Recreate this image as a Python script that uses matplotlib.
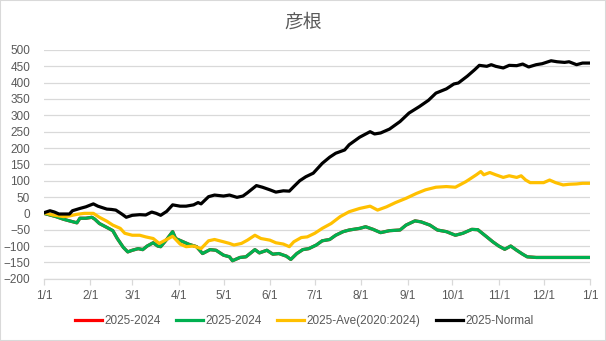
import matplotlib
matplotlib.use("Agg")
import matplotlib.pyplot as plt
from matplotlib.patches import Rectangle

plt.rcParams['font.family'] = ['Liberation Sans', 'Noto Sans CJK JP', 'DejaVu Sans']

# 日数 (1/1 = 0) と累積差
normal_days = [0, 4, 7, 10, 17, 19, 24, 28, 33, 36,
               42, 45, 48, 52, 55, 59, 64, 68, 72, 75,
               78, 82, 86, 91, 95, 100, 103, 105, 110, 114,
               120, 124, 129, 133, 136, 142, 146, 151, 155, 160,
               164, 167, 171, 175, 180, 183, 186, 191, 195, 201,
               204, 211, 218, 221, 225, 231, 238, 244, 251, 257,
               262, 269, 274, 277, 283, 288, 291, 296, 299, 302,
               307, 311, 316, 320, 324, 329, 333, 339, 343, 348,
               351, 356, 360, 364]
normal_vals = [2, 8, 4, -2, -2, 8, 15, 20, 29, 22,
               13, 12, 10, -2, -12, -6, -4, -5, 4, 0,
               -6, 6, 26, 22, 22, 26, 33, 29, 51, 56,
               53, 56, 49, 53, 63, 85, 80, 72, 65, 69,
               68, 82, 100, 112, 123, 138, 153, 172, 184, 194,
               210, 233, 250, 243, 246, 258, 281, 307, 327, 346,
               368, 381, 396, 399, 420, 440, 453, 450, 455, 450,
               445, 453, 452, 457, 448, 455, 458, 467, 464, 462,
               464, 455, 460, 460]

ave_days = [0, 6, 13, 17, 22, 27, 33, 37, 42, 46,
            51, 54, 59, 64, 68, 73, 77, 82, 86, 91,
            95, 100, 105, 110, 114, 120, 124, 127, 132, 136,
            141, 145, 151, 155, 160, 164, 167, 172, 176, 181,
            186, 192, 198, 204, 211, 218, 223, 229, 235, 242,
            249, 255, 262, 269, 275, 282, 289, 292, 294, 298,
            302, 307, 311, 316, 319, 322, 325, 330, 334, 338,
            342, 347, 351, 356, 360, 364]
ave_vals = [2, -5, -10, -8, -3, 0, 0, -12, -24, -36,
            -46, -61, -67, -67, -72, -77, -92, -80, -70, -94,
            -102, -100, -108, -84, -80, -87, -92, -97, -92, -82,
            -67, -77, -82, -90, -94, -102, -87, -74, -72, -61,
            -46, -31, -10, 5, 15, 22, 10, 20, 33, 46,
            61, 72, 80, 82, 80, 97, 118, 128, 118, 125,
            118, 110, 115, 110, 115, 102, 94, 94, 94, 102,
            94, 87, 89, 90, 92, 92]

prev_days = [0, 4, 8, 13, 17, 22, 24, 28, 32, 34,
             37, 42, 46, 49, 53, 56, 59, 63, 66, 69,
             73, 76, 78, 82, 86, 88, 93, 97, 102, 106,
             111, 115, 120, 124, 126, 131, 135, 141, 144, 149,
             153, 157, 162, 165, 169, 173, 177, 182, 186, 191,
             195, 200, 204, 211, 215, 220, 225, 231, 238, 242,
             248, 252, 258, 263, 269, 275, 280, 286, 290, 296,
             300, 304, 308, 312, 316, 320, 323, 329, 364]
prev_vals = [0, -5, -10, -18, -23, -29, -15, -15, -12, -18,
             -31, -43, -53, -77, -104, -118, -113, -108, -111, -100,
             -90, -100, -102, -80, -56, -77, -87, -95, -102, -123,
             -111, -113, -128, -133, -145, -135, -133, -111, -121, -113,
             -125, -123, -131, -141, -123, -111, -108, -97, -84, -80,
             -67, -56, -51, -46, -41, -49, -59, -53, -51, -36,
             -23, -26, -36, -51, -56, -67, -61, -49, -50, -72,
             -87, -100, -110, -100, -113, -125, -133, -135, -135]

month_days = [0, 31, 59, 90, 120, 151, 181, 212, 243, 273, 304, 334, 365]
month_labels = ['1/1', '2/1', '3/1', '4/1', '5/1', '6/1', '7/1',
                '8/1', '9/1', '10/1', '11/1', '12/1', '1/1']

text_c = '#595959'
grid_c = '#d9d9d9'

fig = plt.figure(figsize=(6.06, 3.41), dpi=100)
ax = fig.add_axes([0.0726, 0.1827, 0.901, 0.6707])

lw = 2.3
ax.plot(prev_days, prev_vals, color='#ff0000', lw=lw, label='2025-2024')
ax.plot(prev_days, prev_vals, color='#00b050', lw=lw, label='2025-2024')
ax.plot(ave_days, ave_vals, color='#ffc000', lw=lw, label='2025-Ave(2020:2024)')
ax.plot(normal_days, normal_vals, color='#000000', lw=lw, label='2025-Normal')

ax.set_xlim(0, 365)
ax.set_ylim(-200, 500)
ax.set_yticks(range(-200, 501, 50))
ax.set_xticks(month_days)
ax.set_xticklabels(month_labels)
ax.grid(axis='y', color=grid_c, lw=0.9)
ax.set_axisbelow(True)

for s in ['top', 'right', 'left']:
    ax.spines[s].set_visible(False)
ax.spines['bottom'].set_color(grid_c)
ax.spines['bottom'].set_linewidth(0.9)
ax.tick_params(axis='y', length=0, pad=10, labelsize=8.5, labelcolor=text_c)
ax.tick_params(axis='x', length=4, width=0.9, color=grid_c, direction='out',
               pad=4, labelsize=8.5, labelcolor=text_c)

fig.text(0.5, 0.935, '彦根', ha='center', va='center', fontsize=13.5, color=text_c,
         family=['Noto Sans CJK JP', 'DejaVu Sans'])

fig.legend(loc='center', bbox_to_anchor=(0.502, 0.059), ncol=4, frameon=False,
           fontsize=8.5, labelcolor=text_c, handlelength=2.3, handletextpad=0.2,
           columnspacing=1.3)

fig.patches.append(Rectangle((0, 0), 1, 1, transform=fig.transFigure,
                             fill=False, edgecolor=grid_c, lw=1.5))

fig.savefig('out.png', dpi=100)
